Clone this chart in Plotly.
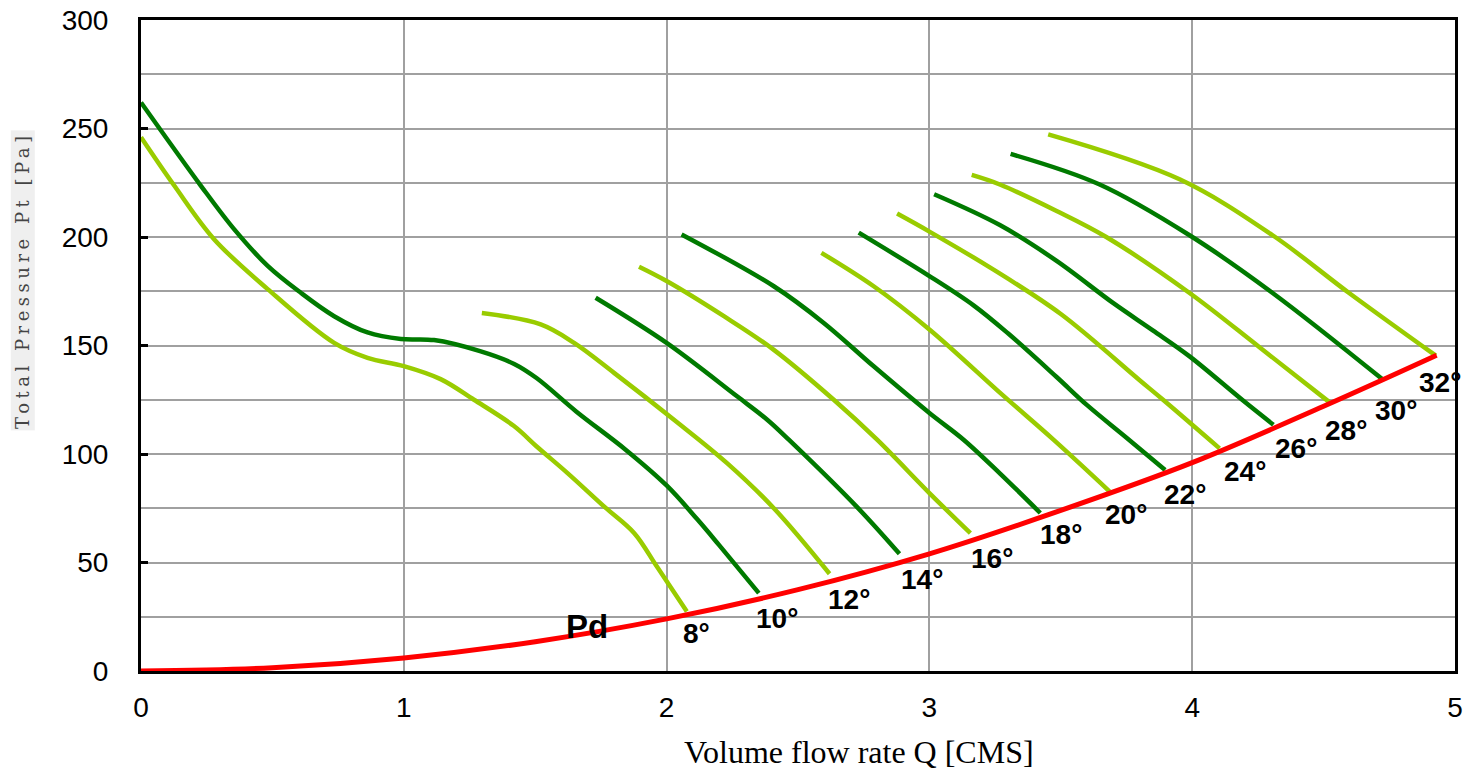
import plotly.graph_objects as go

# ---------------- data ----------------
# Dynamic pressure curve Pd
pd_q = [0, 0.5, 1.0, 1.5, 2.0, 2.5, 3.0, 3.5, 4.0, 4.5, 4.93]
pd_p = [0, 1.5, 6.0, 13.5, 24.0, 37.5, 54.0, 74.0, 96.0, 122.0, 145.5]

# Blade-angle curves (Q [CMS], Pt [Pa])
q_08 = [0, 0.127, 0.278, 0.482, 0.735, 0.862, 1.0, 1.14, 1.267, 1.418, 1.51, 1.623, 1.765, 1.877, 1.963, 2.077]
p_08 = [246, 223.6, 199, 176, 151.2, 144.3, 140.5, 134.5, 125, 113, 103, 91.2, 75.5, 63.5, 48.1, 27.4]

q_10 = [0, 0.228, 0.355, 0.482, 0.608, 0.735, 0.862, 0.989, 1.115, 1.29, 1.42, 1.505, 1.657, 1.844, 2.0, 2.116, 2.2, 2.351]
p_10 = [262, 223.6, 203.5, 186.7, 174.3, 163.5, 156, 153, 152.5, 147.4, 141.5, 135, 119.5, 102, 85.5, 70, 58, 35.9]

q_12 = [1.297, 1.521, 1.648, 1.80, 2.028, 2.23, 2.408, 2.62]
p_12 = [165, 159.7, 151.2, 137.4, 115.8, 95.8, 75, 44.8]

q_14 = [1.73, 2.0, 2.268, 2.383, 2.465, 2.725, 2.886]
p_14 = [172, 151.2, 126.6, 115.8, 106.6, 75.5, 54]

q_16 = [1.895, 2.0, 2.218, 2.408, 2.636, 2.801, 3.0, 3.156]
p_16 = [186.3, 179.7, 163.5, 148, 125, 106.6, 82, 63.5]

q_18 = [2.057, 2.408, 2.598, 2.788, 3.0, 3.13, 3.268, 3.422]
p_18 = [201.2, 177.3, 160.4, 140.4, 118.9, 106.6, 91.1, 72.8]

q_20 = [2.589, 2.788, 3.0, 3.28, 3.472, 3.686]
p_20 = [192.7, 177.3, 157.4, 127, 106.6, 82.7]

q_22 = [2.731, 3.0, 3.168, 3.3, 3.484, 3.6, 3.75, 3.897]
p_22 = [202, 182, 168.5, 155.5, 135.5, 122.5, 107.5, 92.6]

q_24 = [2.877, 3.0, 3.23, 3.5, 3.8, 3.889, 4.104]
p_24 = [210.8, 202.5, 186, 164.5, 134, 125, 102.6]

q_26 = [3.018, 3.268, 3.484, 3.7, 3.85, 3.99, 4.19, 4.309]
p_26 = [219.7, 205.5, 189, 169.5, 157, 145, 125, 113.5]

q_28 = [3.161, 3.268, 3.484, 3.673, 3.99, 4.256, 4.522]
p_28 = [228.6, 224.2, 212, 200, 174.2, 149.2, 123.9]

q_30 = [3.309, 3.648, 3.99, 4.306, 4.724]
p_30 = [238.3, 224.2, 200.8, 174.2, 134.4]

q_32 = [3.452, 3.952, 4.306, 4.597, 4.927]
p_32 = [247.3, 226.6, 200.8, 174.2, 145.3]

angles = ["8°", "10°", "12°", "14°", "16°", "18°", "20°", "22°", "24°", "26°", "28°", "30°", "32°"]
curves_q = [q_08, q_10, q_12, q_14, q_16, q_18, q_20, q_22, q_24, q_26, q_28, q_30, q_32]
curves_p = [p_08, p_10, p_12, p_14, p_16, p_18, p_20, p_22, p_24, p_26, p_28, p_30, p_32]

# label centres (data coordinates)
label_q = [2.115, 2.42, 2.693, 2.972, 3.238, 3.5, 3.749, 3.971, 4.199, 4.395, 4.585, 4.775, 4.943]
label_p = [17.4, 24.3, 32.8, 42, 52, 62.8, 72, 81.2, 91.9, 102.6, 111, 120.1, 133]

LIGHT = "#99cc00"
DARK = "#007a00"
GRID = "#a0a0a0"

fig = go.Figure()

for i, (q, p) in enumerate(zip(curves_q, curves_p)):
    fig.add_trace(go.Scatter(
        x=q, y=p, mode="lines",
        line=dict(color=LIGHT if i % 2 == 0 else DARK, width=4.5, shape="spline", smoothing=1.0),
        showlegend=False, hoverinfo="skip"))

fig.add_trace(go.Scatter(
    x=pd_q, y=pd_p, mode="lines",
    line=dict(color="#ff0000", width=5, shape="spline", smoothing=1.0),
    showlegend=False, hoverinfo="skip"))

for t, lq, lp in zip(angles, label_q, label_p):
    fig.add_annotation(x=lq, y=lp, text=f"<b>{t}</b>", showarrow=False,
                       font=dict(family="Liberation Sans, Arial", size=28, color="#000"),
                       xanchor="center", yanchor="middle")

fig.add_annotation(x=1.698, y=20.4, text="<b>Pd</b>", showarrow=False,
                   font=dict(family="Liberation Sans, Arial", size=33, color="#000"),
                   xanchor="center", yanchor="middle")

# axis titles (positions relative to the plot area)
fig.add_annotation(xref="paper", yref="paper", x=(859 - 140) / 1315, y=-(752 - 671) / 649,
                   text="Volume flow rate Q [CMS]", showarrow=False,
                   font=dict(family="Liberation Serif, Times New Roman", size=32, color="#000"),
                   xanchor="center", yanchor="middle")
fig.add_annotation(xref="paper", yref="paper", x=-(140 - 22) / 1315, y=(671 - 282) / 649,
                   text='<span style="letter-spacing:4.5px">Total Pressure Pt [Pa]</span>',
                   showarrow=False, textangle=-90,
                   font=dict(family="DejaVu Serif", size=18, color="#444"),
                   bgcolor="#efefef",
                   xanchor="center", yanchor="middle")

fig.update_xaxes(range=[0, 5], dtick=1, tick0=0, automargin=False,
                 showgrid=True, gridcolor=GRID, gridwidth=2,
                 showline=True, linecolor="#000", linewidth=3, mirror=True,
                 zeroline=False, ticks="",
                 tickfont=dict(family="Liberation Sans, Arial", size=28, color="#000"),
                 ticklabelstandoff=9, ticklabeloverflow="allow")
fig.update_yaxes(range=[0, 300], dtick=50, tick0=0, automargin=False,
                 showgrid=True, gridcolor=GRID, gridwidth=2,
                 minor=dict(dtick=25, showgrid=True, gridcolor=GRID, gridwidth=2),
                 showline=True, linecolor="#000", linewidth=3, mirror=True,
                 zeroline=False, ticks="inside", ticklen=7, tickwidth=3, tickcolor="#000",
                 tickfont=dict(family="Liberation Sans, Arial", size=28, color="#000"),
                 ticklabelstandoff=24, ticklabeloverflow="allow")

fig.update_layout(width=1473, height=769,
                  margin=dict(l=133, r=26, t=12, b=106),
                  plot_bgcolor="#ffffff", paper_bgcolor="#ffffff")

fig.write_html("out.html")
